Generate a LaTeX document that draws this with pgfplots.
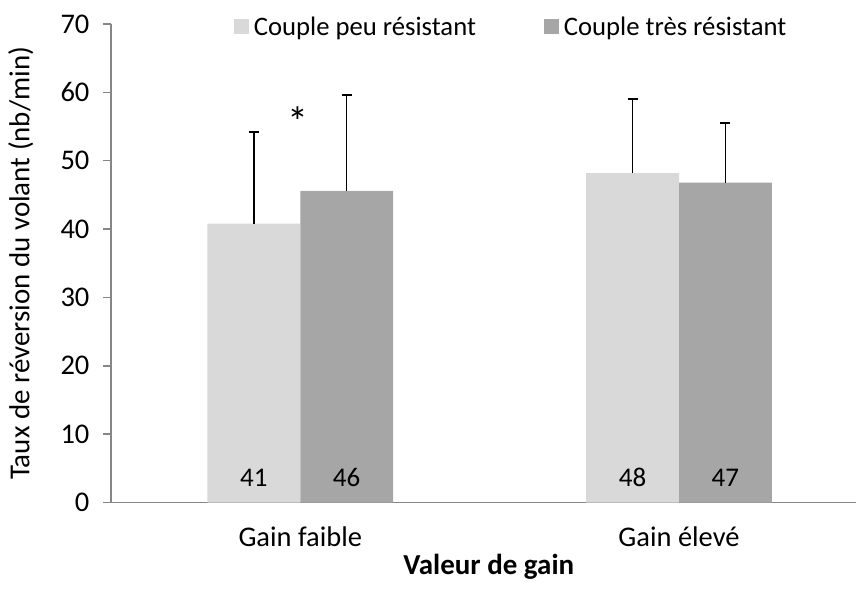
\documentclass[border=0pt]{standalone}
\usepackage{fontspec}
\setmainfont{Carlito}
\usepackage{pgfplots}
\pgfplotsset{compat=1.18}
\definecolor{barA}{HTML}{D9D9D9}
\definecolor{barB}{HTML}{A6A6A6}
\definecolor{axisgray}{HTML}{868686}

\begin{document}
\begin{tikzpicture}
\begin{axis}[
  scale only axis,
  width=746bp, height=479bp,
  xmin=-0.5, xmax=1.468,
  ymin=0, ymax=70,
  ytick={0,10,...,70},
  xtick={0,1},
  xticklabels={Gain faible, Gain élevé},
  axis x line*=bottom, axis y line*=left,
  axis line style={axisgray, line width=1.5bp},
  ytick style={axisgray, line width=1.5bp},
  xtick style={draw=none},
  tick align=outside,
  major tick length=8bp,
  tick label style={font=\fontsize{28.5bp}{34bp}\selectfont},
  /pgf/number format/assume math mode=true,
  xticklabel style={yshift=-13bp},
  yticklabel style={xshift=-10bp},
  ylabel={Taux de réversion du volant (nb/min)},
  ylabel style={font=\fontsize{29bp}{34bp}\selectfont, at={(axis description cs:-0.121,0.5)}, anchor=center},
  xlabel={\bfseries Valeur de gain},
  xlabel style={font=\fontsize{29bp}{34bp}\selectfont, at={(axis description cs:0.507,-0.135)}, anchor=center},
  ybar, bar width=0.245,
  clip=false,
  legend columns=2,
  legend style={draw=none, fill=none, font=\fontsize{26.7bp}{32bp}\selectfont,
    at={(axis description cs:0.1648,0.994)}, anchor=west,
    inner sep=0pt,
    /tikz/every odd column/.append style={column sep=3bp},
    /tikz/every even column/.append style={column sep=66bp}},
  legend image code/.code={\fill[#1] (0bp,-7.5bp) rectangle (15bp,7.5bp);},
  error bars/error bar style={black, line width=1.5bp},
  error bars/error mark options={black, rotate=90, mark size=5bp, line width=1.5bp},
]
\addplot[fill=barA, draw=none, bar shift=-0.1225,
  error bars/.cd, y dir=plus, y explicit]
  coordinates {(0,40.8) +- (0,13.4) (1,48.2) +- (0,10.8)};
\addlegendentry{Couple peu résistant}
\addplot[fill=barB, draw=none, bar shift=0.1225,
  error bars/.cd, y dir=plus, y explicit]
  coordinates {(0,45.6) +- (0,14.0) (1,46.8) +- (0,8.7)};
\addlegendentry{Couple très résistant}
% labels at the foot of the bars
\addplot[draw=none, fill=none, bar shift=-0.1225, forget plot,
  point meta=explicit symbolic, nodes near coords,
  every node near coord/.append style={anchor=center, font=\fontsize{27bp}{32bp}\selectfont}]
  coordinates {(0,3.65) [41] (1,3.65) [48]};
\addplot[draw=none, fill=none, bar shift=0.1225, forget plot,
  point meta=explicit symbolic, nodes near coords,
  every node near coord/.append style={anchor=center, font=\fontsize{27bp}{32bp}\selectfont}]
  coordinates {(0,3.65) [46] (1,3.65) [47]};
\node[font=\fontsize{42bp}{42bp}\selectfont, anchor=base] at (axis cs:-0.005,53.5) {*};
\pgfresetboundingbox
\useasboundingbox (rel axis cs:0,0) ++(-111bp,-90bp) rectangle ++(857bp,593bp);
\end{axis}
\end{tikzpicture}
\end{document}
